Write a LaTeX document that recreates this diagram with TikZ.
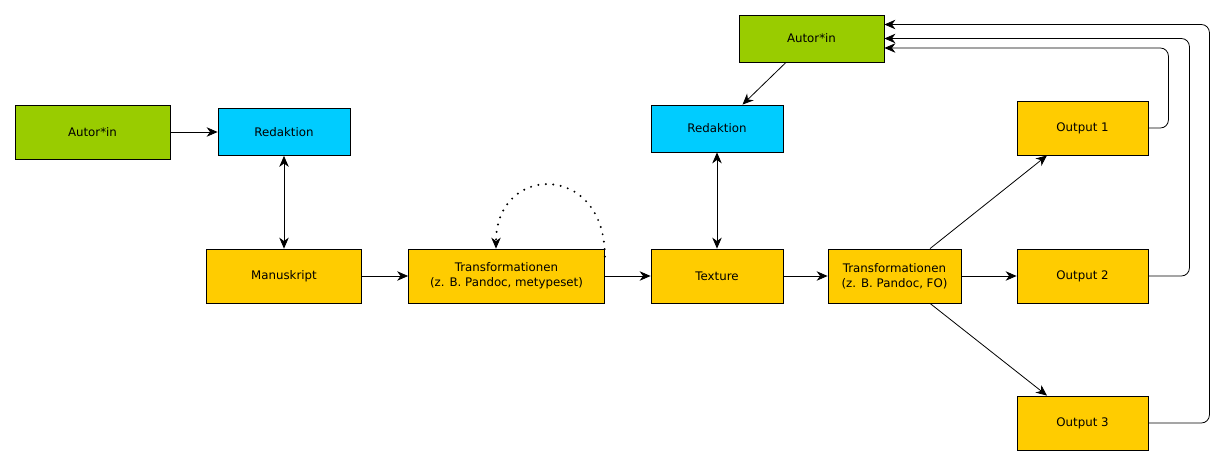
\documentclass[tikz,border=0pt]{standalone}
\usepackage{fontspec}
\setmainfont{DejaVu Sans}
\usetikzlibrary{arrows.meta,positioning}
\definecolor{autorgreen}{HTML}{99CC00}
\definecolor{redakblue}{HTML}{00CCFF}
\definecolor{werkyellow}{HTML}{FFCC00}

\begin{document}
\begin{tikzpicture}[x=1pt,y=-1pt,on grid,line width=0.8pt,
  >={Stealth[length=11pt,width=9.5pt,inset=3.5pt]},
  box/.style={draw,line width=0.8pt,inner sep=0pt,align=center,
    font=\fontsize{11.8}{15}\selectfont,minimum height=54pt},
  autor/.style={box,fill=autorgreen},
  redak/.style={box,fill=redakblue,minimum height=47pt},
  werk/.style={box,fill=werkyellow},
  loopline/.style={line width=2.2pt,line cap=round,dash pattern=on 0pt off 7.5pt}]
  \useasboundingbox (0,0) rectangle (1224,466);
  \node[autor,minimum width=155pt] (a1) at (92.5,132) {Autor*in};
  \node[redak,minimum width=132pt] (r1) [right=191.5pt of a1] {Redaktion};
  \node[werk,minimum width=155pt]  (m)  [below=144pt of r1]   {Manuskript};
  \node[werk,minimum width=196pt]  (t1) [right=222.5pt of m]  {Transformationen\\(z. B. Pandoc, metypeset)};
  \node[werk,minimum width=132pt]  (x)  [right=210.5pt of t1] {Texture};
  \node[redak,minimum width=132pt] (r2) [above=147.5pt of x]  {Redaktion};
  \node[autor,minimum width=145pt,minimum height=47pt] (a2) at (811.5,38.5) {Autor*in};
  \node[werk,minimum width=133pt]  (t2) [right=177.5pt of x]  {Transformationen\\(z. B. Pandoc, FO)};
  \node[werk,minimum width=131pt]  (o2) [right=188pt of t2]   {Output 2};
  \node[werk,minimum width=131pt]  (o1) [above=148pt of o2]   {Output 1};
  \node[werk,minimum width=131pt]  (o3) [below=147pt of o2]   {Output 3};
  \path[->] (a1) edge (r1)
            (r1) edge [<->] (m)
            (m)  edge (t1)
            (t1) edge (x)
            (r2) edge [<->] (x)
            (x)  edge (t2)
            (t2) edge (o2)
            ([xshift=-25.5pt]a2.south) edge ([xshift=25.5pt]r2.north)
            ([xshift=35.5pt]t2.north) edge ([xshift=-35.5pt]o1.south)
            ([xshift=35.5pt]t2.south) edge ([xshift=-35.5pt]o3.north);
  % dotted loop on the first transformation
  \draw[loopline,-{Stealth[length=11pt,width=9.5pt,inset=3.5pt,line width=0.8pt]}] ([yshift=-8pt]t1.north east) .. controls +(0,-95) and +(0,-85) .. ([xshift=-10.5pt]t1.north);
  % back to the author
  \draw[->,rounded corners=8pt] (o1.east) -- ++(20,0) |- ([yshift=-9.5pt]a2.east);
  \draw[->,rounded corners=8pt] (o2.east) -- ++(41,0) |- (a2.east);
  \draw[->,rounded corners=8pt] (o3.east) -- ++(61,0) |- ([yshift=14pt]a2.east);
\end{tikzpicture}
\end{document}
